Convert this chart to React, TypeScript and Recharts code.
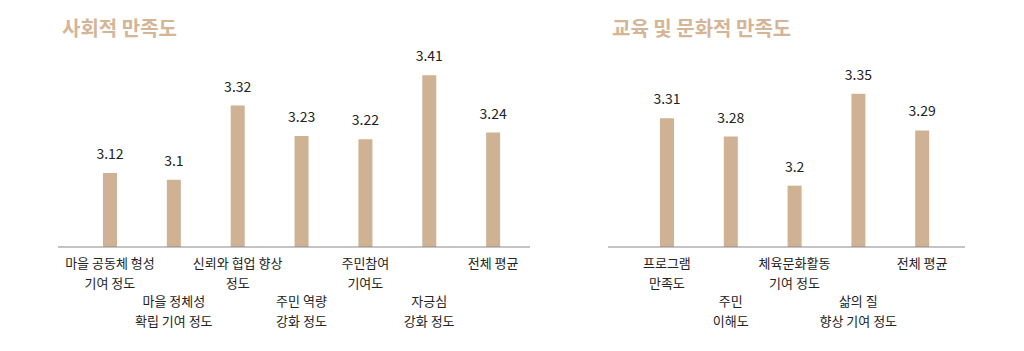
import React from 'react';
import { BarChart, Bar, XAxis, YAxis, LabelList } from 'recharts';

const socialCategories = [
  '마을 공동체 형성\n기여 정도',
  '마을 정체성\n확립 기여 정도',
  '신뢰와 협업 향상\n정도',
  '주민 역량\n강화 정도',
  '주민참여\n기여도',
  '자긍심\n강화 정도',
  '전체 평균',
];
const socialValues = [3.12, 3.1, 3.32, 3.23, 3.22, 3.41, 3.24];

const eduCategories = [
  '프로그램\n만족도',
  '주민\n이해도',
  '체육문화활동\n기여 정도',
  '삶의 질\n향상 기여 정도',
  '전체 평균',
];
const eduValues = [3.31, 3.28, 3.2, 3.35, 3.29];

const FONT = '"Noto Sans CJK KR", "Noto Sans", sans-serif';
const BAR = '#CFB294';
const TITLE = '#D4B596';

const socialData = socialCategories.map((name, i) => ({ name, value: socialValues[i] }));
const eduData = eduCategories.map((name, i) => ({ name, value: eduValues[i] }));

// labels alternate between two rows so the long ones don't collide
const StaggerTick = (props: any) => {
  const { x, y, payload, index } = props;
  const lines: string[] = String(payload.value).split('\n');
  const start = index % 2 === 0 ? 21 : 59;
  return (
    <g>
      {lines.map((line, i) => (
        <text
          key={i}
          x={x}
          y={y + start + i * 20}
          textAnchor="middle"
          fill="#222"
          fontSize={13}
          fontFamily={FONT}
        >
          {line}
        </text>
      ))}
    </g>
  );
};

const App = () => {
  return (
    <div style={{ position: 'absolute', left: 0, top: 0, width: 1024, height: 351, background: '#fff', fontFamily: FONT }}>
      <div style={{ position: 'absolute', left: 62, top: 13, fontSize: 20, fontWeight: 700, color: TITLE }}>
        사회적 만족도
      </div>
      <div style={{ position: 'absolute', left: 612, top: 13, fontSize: 20, fontWeight: 700, color: TITLE }}>
        교육 및 문화적 만족도
      </div>

      <div style={{ position: 'absolute', left: 0, top: 0 }}>
        <BarChart width={540} height={351} data={socialData} margin={{ top: 45, right: 10, bottom: 74, left: 58 }}>
          <XAxis
            dataKey="name"
            interval={0}
            tickLine={false}
            tickSize={0}
            tickMargin={0}
            axisLine={{ stroke: '#8a8a8a' }}
            padding={{ left: 20, right: 5 }}
            tick={<StaggerTick />}
          />
          <YAxis hide width={0} domain={[2.9, 3.5]} />
          <Bar dataKey="value" fill={BAR} barSize={14} isAnimationActive={false}>
            <LabelList dataKey="value" position="top" offset={14} fill="#222" fontSize={14} fontFamily={FONT} />
          </Bar>
        </BarChart>
      </div>

      <div style={{ position: 'absolute', left: 560, top: 0 }}>
        <BarChart width={464} height={351} data={eduData} margin={{ top: 63, right: 59, bottom: 74, left: 48 }}>
          <XAxis
            dataKey="name"
            interval={0}
            tickLine={false}
            tickSize={0}
            tickMargin={0}
            axisLine={{ stroke: '#8a8a8a' }}
            padding={{ left: 27, right: 11 }}
            tick={<StaggerTick />}
          />
          <YAxis hide width={0} domain={[3.1, 3.4]} />
          <Bar dataKey="value" fill={BAR} barSize={14} isAnimationActive={false}>
            <LabelList dataKey="value" position="top" offset={14} fill="#222" fontSize={14} fontFamily={FONT} />
          </Bar>
        </BarChart>
      </div>
    </div>
  );
};

export default App;
